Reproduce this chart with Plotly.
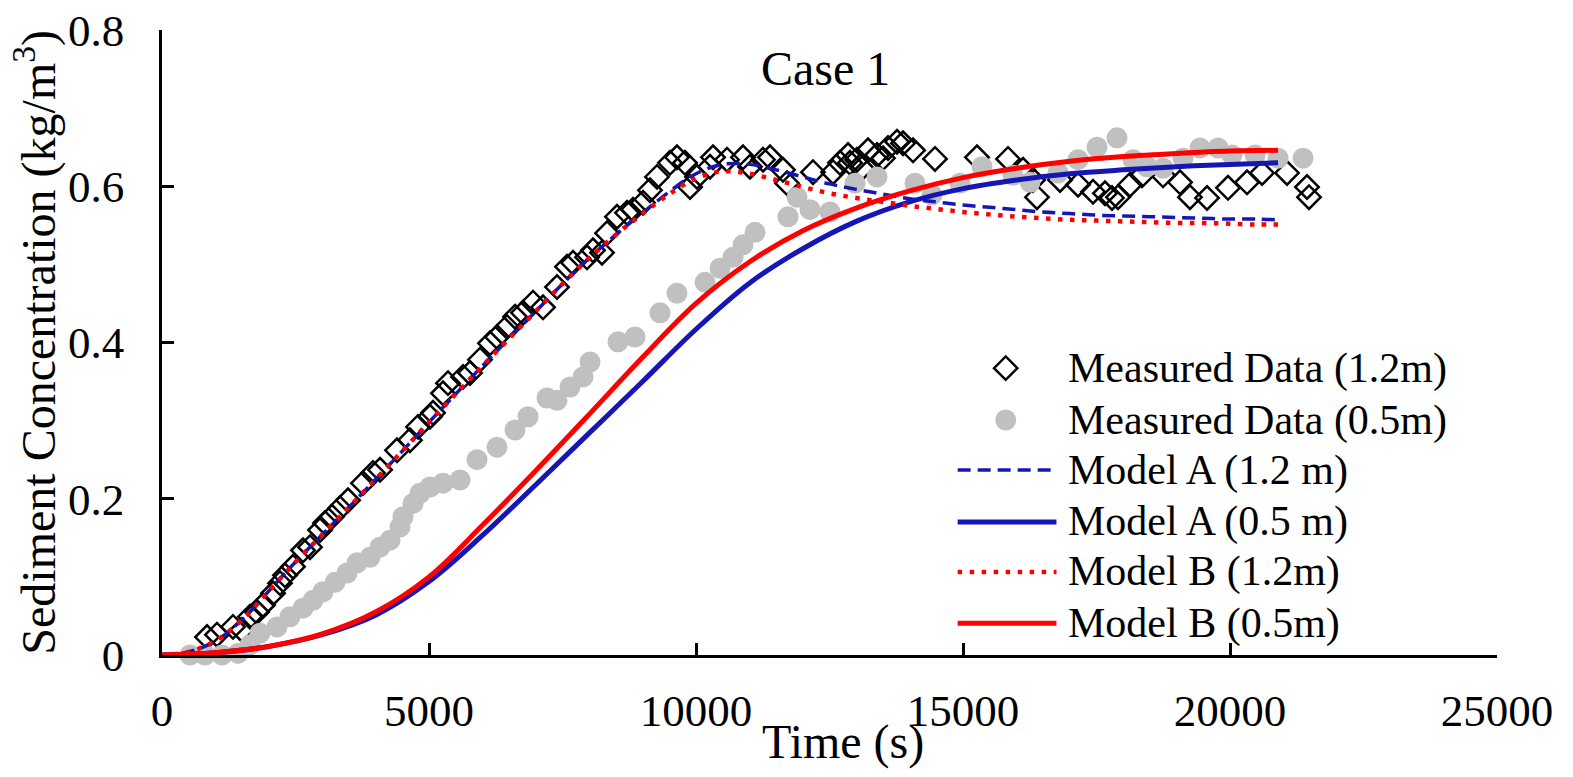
import plotly.graph_objects as go

# ---- data ----
# Measured Data (1.2m): time (s), concentration (kg/m3)
meas12_t = [843, 1030, 1330, 1498, 1648, 1779, 1891, 2079, 2210, 2303, 2453, 2641, 2772,
            2959, 3053, 3184, 3333, 3483, 3764, 3951, 4083, 4401, 4644, 4794, 5019, 5075,
            5262, 5356, 5637, 5768, 5955, 6142, 6274, 6461, 6611, 6760, 6948, 7135, 7397,
            7584, 7697, 7959, 8071, 8240, 8334, 8521, 8708, 8821, 9008, 9139, 9270, 9513,
            9644, 9794, 9888, 10019, 10262, 10319, 10581, 10880, 11011, 11255, 11386, 11629,
            11704, 12191, 12566, 12697, 12847, 12884, 13015, 13109, 13221, 13390, 13502,
            13596, 13764, 13877, 14064, 14476, 15262, 15843, 16124, 16311, 16386, 16817,
            17154, 17435, 17659, 17790, 17903, 18128, 18352, 18746, 19064, 19251, 19570,
            19963, 20319, 20600, 21068, 21442, 21480]
meas12_c = [0.023, 0.026, 0.036, 0.032, 0.049, 0.055, 0.064, 0.079, 0.092, 0.102, 0.113,
            0.134, 0.138, 0.160, 0.169, 0.177, 0.188, 0.198, 0.220, 0.233, 0.237, 0.262,
            0.275, 0.292, 0.305, 0.310, 0.335, 0.348, 0.356, 0.361, 0.378, 0.399, 0.407,
            0.420, 0.433, 0.438, 0.451, 0.445, 0.471, 0.497, 0.502, 0.509, 0.518, 0.515,
            0.540, 0.561, 0.566, 0.570, 0.579, 0.595, 0.612, 0.630, 0.637, 0.630, 0.599,
            0.612, 0.625, 0.637, 0.634, 0.637, 0.625, 0.634, 0.637, 0.621, 0.604, 0.618,
            0.618, 0.630, 0.640, 0.630, 0.634, 0.623, 0.646, 0.640, 0.636, 0.649, 0.657,
            0.655, 0.646, 0.635, 0.637, 0.635, 0.621, 0.608, 0.586, 0.608, 0.602, 0.593,
            0.591, 0.585, 0.586, 0.602, 0.614, 0.614, 0.605, 0.586, 0.585, 0.598, 0.605,
            0.617, 0.617, 0.599, 0.586]

# Measured Data (0.5m)
meas05_t = [524, 805, 1124, 1423, 1648, 1835, 2154, 2397, 2641, 2828, 3015, 3240, 3465,
            3652, 3895, 4083, 4270, 4457, 4513, 4700, 4832, 5019, 5262, 5581, 5899, 6274,
            6611, 6854, 7210, 7397, 7641, 7884, 8015, 8540, 8858, 9326, 9644, 10169, 10450,
            10693, 10880, 11105, 11723, 11891, 12135, 12510, 12978, 13390, 14101, 14420,
            14944, 15356, 15937, 16255, 16779, 17154, 17510, 17884, 18184, 18446, 18746,
            19120, 19438, 19776, 20038, 20469, 20900, 21368]
meas05_c = [0.000, 0.000, 0.000, 0.002, 0.013, 0.028, 0.036, 0.049, 0.060, 0.070, 0.081,
            0.093, 0.105, 0.118, 0.125, 0.138, 0.147, 0.164, 0.177, 0.194, 0.207, 0.215,
            0.220, 0.224, 0.250, 0.266, 0.288, 0.305, 0.329, 0.326, 0.343, 0.356, 0.375,
            0.401, 0.407, 0.438, 0.463, 0.477, 0.495, 0.509, 0.525, 0.541, 0.561, 0.586,
            0.570, 0.567, 0.604, 0.612, 0.604, 0.589, 0.604, 0.625, 0.614, 0.605, 0.617,
            0.634, 0.650, 0.662, 0.634, 0.625, 0.623, 0.636, 0.649, 0.649, 0.640, 0.640,
            0.636, 0.636]

# Model curves at 1.2 m
model12_t = [0, 500, 1000, 1500, 2000, 2500, 3000, 3500, 4000, 4500, 5000, 5500, 6000,
             6500, 7000, 7500, 8000, 8500, 9000, 9500, 10000, 10500, 11000, 11500, 12000,
             12500, 13000, 13500, 14000, 14500, 15000, 15500, 16000, 16500, 17000, 17500,
             18000, 18500, 19000, 19500, 20000, 20500, 20900]
modelA12 = [0, 0.004, 0.018, 0.045, 0.082, 0.119, 0.154, 0.189, 0.225, 0.261, 0.298,
            0.334, 0.370, 0.405, 0.440, 0.475, 0.508, 0.538, 0.566, 0.593, 0.616, 0.628,
            0.628, 0.621, 0.612, 0.603, 0.596, 0.590, 0.584, 0.580, 0.576, 0.573, 0.570,
            0.567, 0.565, 0.563, 0.562, 0.561, 0.560, 0.559, 0.558, 0.558, 0.557]
modelB12 = [0, 0.004, 0.018, 0.045, 0.082, 0.119, 0.154, 0.189, 0.225, 0.261, 0.298,
            0.334, 0.370, 0.405, 0.440, 0.475, 0.508, 0.538, 0.565, 0.590, 0.610, 0.619,
            0.616, 0.608, 0.599, 0.591, 0.585, 0.580, 0.575, 0.571, 0.567, 0.564, 0.561,
            0.559, 0.557, 0.556, 0.555, 0.554, 0.553, 0.553, 0.552, 0.551, 0.551]

# Model curves at 0.5 m
model05_t = [0, 1000, 2000, 3000, 4000, 5000, 6000, 7000, 8000, 9000, 10000, 11000, 12000,
             13000, 14000, 15000, 16000, 17000, 18000, 19000, 20000, 20900]
modelA05 = [0, 0.003, 0.011, 0.026, 0.051, 0.094, 0.153, 0.218, 0.284, 0.350, 0.417,
            0.476, 0.520, 0.555, 0.580, 0.597, 0.608, 0.616, 0.621, 0.625, 0.628, 0.630]
modelB05 = [0, 0.003, 0.011, 0.027, 0.055, 0.100, 0.166, 0.236, 0.308, 0.381, 0.450,
            0.503, 0.543, 0.572, 0.594, 0.611, 0.623, 0.632, 0.638, 0.642, 0.645, 0.646]

legend_names = ['Measured Data (1.2m)', 'Measured Data (0.5m)', 'Model A (1.2 m)',
                'Model A (0.5 m)', 'Model B (1.2m)', 'Model B (0.5m)']

x_ticks = [0, 5000, 10000, 15000, 20000, 25000]
y_ticks = [0, 0.2, 0.4, 0.6, 0.8]

# ---- styling ----
FONT = 'Liberation Serif'
BLUE = 'rgb(22,22,180)'
RED = 'rgb(255,0,0)'
GRAY = 'rgb(192,192,192)'

diamond = dict(symbol='diamond-open', size=18, color='black', line=dict(color='black', width=2.5))
circle = dict(symbol='circle', size=21, color=GRAY, line=dict(width=0))
line_a12 = dict(color=BLUE, width=3.5, dash='13px,7px')
line_a05 = dict(color=BLUE, width=5)
line_b12 = dict(color=RED, width=4.5, dash='4.5px,7.5px')
line_b05 = dict(color=RED, width=5)

traces = [
    go.Scatter(x=meas12_t, y=meas12_c, mode='markers', marker=diamond, cliponaxis=False),
    go.Scatter(x=meas05_t, y=meas05_c, mode='markers', marker=circle, cliponaxis=False),
    go.Scatter(x=model12_t, y=modelA12, mode='lines', line=dict(shape='spline', **line_a12)),
    go.Scatter(x=model05_t, y=modelA05, mode='lines', line=dict(shape='spline', **line_a05)),
    go.Scatter(x=model12_t, y=modelB12, mode='lines', line=dict(shape='spline', **line_b12)),
    go.Scatter(x=model05_t, y=modelB05, mode='lines', line=dict(shape='spline', **line_b05)),
]

# hand-drawn legend on an overlay axis that spans the plot area as 0..1
leg_rows = [0.459, 0.376, 0.296, 0.213, 0.133, 0.051]
leg_line_x = [0.596, 0.670]
leg_mark_x = 0.632
leg_text_x = 0.677

leg_styles = [('m', diamond), ('m', circle), ('l', line_a12), ('l', line_a05),
              ('l', line_b12), ('l', line_b05)]
for yy, (kind, sty) in zip(leg_rows, leg_styles):
    if kind == 'm':
        traces.append(go.Scatter(x=[leg_mark_x], y=[yy], mode='markers', marker=sty,
                                 xaxis='x2', yaxis='y2'))
    else:
        traces.append(go.Scatter(x=leg_line_x, y=[yy, yy], mode='lines', line=sty,
                                 xaxis='x2', yaxis='y2'))

annotations = [
    dict(text=name, x=leg_text_x, y=yy, xref='paper', yref='paper', xanchor='left',
         yanchor='middle', showarrow=False, font=dict(family=FONT, size=42, color='black'))
    for name, yy in zip(legend_names, leg_rows)
]
annotations += [
    dict(text='Case 1', x=0.497, y=0.938, xref='paper', yref='paper', showarrow=False,
         xanchor='center', yanchor='middle', font=dict(family=FONT, size=48, color='black')),
    dict(text='Time (s)', x=0.51, y=-0.139, xref='paper', yref='paper', showarrow=False,
         xanchor='center', yanchor='middle', font=dict(family=FONT, size=48, color='black')),
    dict(text='Sediment Concentration (kg/m<sup>3</sup>)', x=-0.095, y=0.5, xref='paper',
         yref='paper', showarrow=False, textangle=-90, xanchor='center', yanchor='middle',
         font=dict(family=FONT, size=48, color='black')),
]

axis_style = dict(showgrid=False, zeroline=False, showline=True, linecolor='black',
                  linewidth=2.5, ticks='inside', ticklen=12, tickwidth=2.5,
                  tickcolor='black', tickfont=dict(family=FONT, size=45, color='black'),
                  mirror=False, automargin=False, ticklabeloverflow='allow')

layout = go.Layout(
    width=1573, height=777,
    margin=dict(l=162, r=76, t=30, b=122),
    paper_bgcolor='white', plot_bgcolor='white',
    showlegend=False,
    xaxis=dict(range=[0, 25000], tickvals=x_ticks, ticktext=[str(v) for v in x_ticks],
               ticklabelstandoff=14, **axis_style),
    yaxis=dict(range=[0, 0.8], tickvals=y_ticks, ticktext=['0', '0.2', '0.4', '0.6', '0.8'],
               ticklabelstandoff=26, **axis_style),
    xaxis2=dict(overlaying='x', range=[0, 1], visible=False),
    yaxis2=dict(overlaying='y', range=[0, 1], visible=False),
    annotations=annotations,
)

fig = go.Figure(data=traces, layout=layout)
# drop the page's default body margin so the figure fills the window exactly
fig.write_html("out.html", config={'displayModeBar': False},
               post_script="document.body.style.margin = '0';")
